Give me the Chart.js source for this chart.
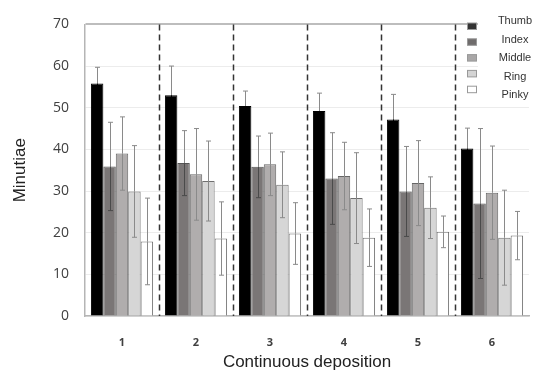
<html>
<head>
  <meta charset="utf-8">
  <script src="https://cdn.jsdelivr.net/npm/chart.js@4.4.0/dist/chart.umd.min.js"></script>
  <style>
    body { margin: 0; background: #fff; }
    #wrap { width: 536px; height: 376px; }
  </style>
</head>
<body>
<div id="wrap"><canvas id="myChart"></canvas></div>
<script>
  // data
  var categories = ['1', '2', '3', '4', '5', '6'];
  var fingers = ['Thumb', 'Index', 'Middle', 'Ring', 'Pinky'];

  var thumb  = [55.8, 53.0, 50.4, 49.2, 47.2, 40.2];
  var index  = [35.9, 36.7, 35.8, 33.0, 29.9, 27.0];
  var middle = [39.0, 34.0, 36.4, 33.6, 31.9, 29.6];
  var ring   = [29.9, 32.4, 31.5, 28.3, 26.0, 18.8];
  var pinky  = [17.9, 18.6, 19.8, 18.8, 20.2, 19.3];

  var thumbSd  = [3.9, 7.0, 3.6, 4.3, 6.0, 4.9];
  var indexSd  = [10.6, 7.8, 7.4, 11.0, 10.8, 18.0];
  var middleSd = [8.8, 11.0, 7.5, 8.1, 10.2, 11.2];
  var ringSd   = [11.0, 9.6, 7.9, 10.9, 7.4, 11.4];
  var pinkySd  = [10.4, 8.8, 7.4, 6.9, 3.8, 5.8];

  var yTicks = [0, 10, 20, 30, 40, 50, 60, 70];

  var fills   = ['#000000', '#7a7676', '#b0adad', '#d6d6d6', '#ffffff'];
  var borders = ['#000000', '#555555', '#666666', '#6f6f6f', '#6f6f6f'];
  var legendFills = ['#333333', '#6f6c6c', '#a9a7a7', '#d4d4d4', '#ffffff'];

  var means = [thumb, index, middle, ring, pinky];
  var sds = [thumbSd, indexSd, middleSd, ringSd, pinkySd];

  var datasets = fingers.map(function (name, i) {
    return {
      label: name,
      data: means[i],
      sd: sds[i],
      backgroundColor: fills[i],
      borderColor: borders[i],
      borderWidth: 1
    };
  });

  // dashed separators between the groups
  var dividers = {
    id: 'dividers',
    beforeDatasetsDraw: function (chart) {
      var x = chart.scales.x, area = chart.chartArea, c = chart.ctx;
      c.save();
      c.strokeStyle = '#333';
      c.lineWidth = 1.5;
      c.setLineDash([6, 4]);
      for (var i = 0; i < categories.length - 1; i++) {
        var px = Math.round((x.getPixelForValue(i) + x.getPixelForValue(i + 1)) / 2) + 0.5;
        c.beginPath();
        c.moveTo(px, area.top);
        c.lineTo(px, area.bottom);
        c.stroke();
      }
      c.restore();
    }
  };

  // error bars (mean +/- sd)
  var errorBars = {
    id: 'errorBars',
    afterDatasetsDraw: function (chart) {
      var y = chart.scales.y, c = chart.ctx;
      c.save();
      c.lineWidth = 1;
      chart.data.datasets.forEach(function (ds, di) {
        var meta = chart.getDatasetMeta(di);
        var upColor = '#8a8a8a';
        var downColor = di === 0 ? '#000' : (di === 1 ? '#4a4a4a' : '#8a8a8a');
        meta.data.forEach(function (bar, j) {
          var mid = y.getPixelForValue(ds.data[j]);
          var top = y.getPixelForValue(ds.data[j] + ds.sd[j]);
          var bot = y.getPixelForValue(ds.data[j] - ds.sd[j]);
          var bx = Math.round(bar.x) + 0.5;
          c.strokeStyle = upColor;
          c.beginPath();
          c.moveTo(bx, top); c.lineTo(bx, mid);
          c.moveTo(bx - 2.5, top); c.lineTo(bx + 2.5, top);
          c.stroke();
          c.strokeStyle = downColor;
          c.beginPath();
          c.moveTo(bx, mid); c.lineTo(bx, bot);
          c.moveTo(bx - 2.5, bot); c.lineTo(bx + 2.5, bot);
          c.stroke();
        });
      });
      c.restore();
    }
  };

  // legend in the top right corner
  var cornerLegend = {
    id: 'cornerLegend',
    afterDraw: function (chart) {
      var c = chart.ctx;
      c.save();
      c.fillStyle = '#fff';
      c.fillRect(478, 0, 58, 101);
      c.font = '11px "Liberation Sans", Arial, sans-serif';
      c.textAlign = 'center';
      c.textBaseline = 'middle';
      chart.data.datasets.forEach(function (ds, i) {
        var by = 23 + i * 15.8;
        c.fillStyle = legendFills[i];
        c.fillRect(467.5, by, 9, 6.5);
        c.strokeStyle = '#999';
        c.lineWidth = 1;
        c.strokeRect(467.5, by, 9, 6.5);
        c.fillStyle = '#333';
        c.fillText(ds.label, 515, 21 + i * 18.5);
      });
      c.restore();
    }
  };

  var ctx = document.getElementById('myChart').getContext('2d');
  var chart = new Chart(ctx, {
    type: 'bar',
    data: { labels: categories, datasets: datasets },
    plugins: [dividers, errorBars, cornerLegend],
    options: {
      responsive: true,
      maintainAspectRatio: false,
      animation: false,
      layout: { padding: { top: 15, right: 7, bottom: 0, left: 0 } },
      datasets: { bar: { categoryPercentage: 0.84, barPercentage: 1.0 } },
      plugins: { legend: { display: false }, tooltip: { enabled: false } },
      scales: {
        x: {
          grid: { display: false },
          border: { display: true, color: '#b5b5b5', width: 1.5 },
          ticks: {
            color: '#404040',
            padding: 12,
            font: { family: '"Open Sans", sans-serif', size: 11, weight: 'bold' }
          },
          title: {
            display: true,
            text: 'Continuous deposition',
            color: '#222',
            padding: { top: 0, bottom: 3 },
            font: { family: '"Liberation Sans", Arial, sans-serif', size: 17 }
          },
          afterFit: function (s) { s.height = 60; }
        },
        y: {
          min: 0,
          max: 70,
          afterBuildTicks: function (s) {
            s.ticks = yTicks.map(function (v) { return { value: v }; });
          },
          grid: {
            drawTicks: false,
            color: function (c) { return c.tick && c.tick.value === 70 ? '#bdbdbd' : '#ececec'; },
            lineWidth: function (c) { return c.tick && c.tick.value === 70 ? 2 : 1; }
          },
          border: { display: true, color: '#b5b5b5', width: 1.5 },
          ticks: {
            color: '#404040',
            padding: 16,
            font: { family: '"Open Sans", sans-serif', size: 14 }
          },
          title: {
            display: true,
            text: 'Minutiae',
            color: '#222',
            padding: { top: 10, bottom: 0 },
            font: { family: '"Liberation Sans", Arial, sans-serif', size: 17 }
          },
          afterFit: function (s) { s.width = 85; }
        }
      }
    }
  });
</script>
</body>
</html>
